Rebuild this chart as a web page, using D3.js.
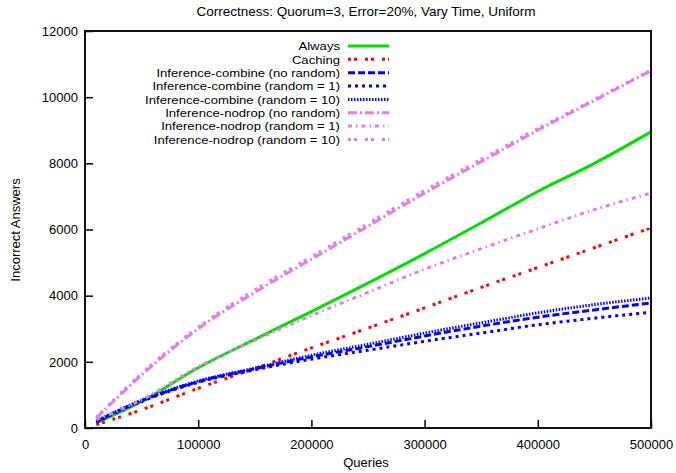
<!DOCTYPE html>
<html>
<head>
<meta charset="utf-8">
<script src="https://cdn.jsdelivr.net/npm/d3@7"></script>
<style>
  body { margin: 0; background: #fff; }
  text { font-family: "Liberation Sans", Arial, Helvetica, sans-serif; fill: #000; }
</style>
</head>
<body>
<svg id="chart" width="676" height="473"></svg>
<script>
const title = "Correctness: Quorum=3, Error=20%, Vary Time, Uniform";
const xLabel = "Queries";
const yLabel = "Incorrect Answers";
const xTicks = [0, 100000, 200000, 300000, 400000, 500000];
const yTicks = [0, 2000, 4000, 6000, 8000, 10000, 12000];

const queries = [10000, 50000, 100000, 150000, 200000, 250000, 300000, 350000, 400000, 450000, 500000];

const seriesNames = [
  "Always",
  "Caching",
  "Inference-combine (no random)",
  "Inference-combine (random = 1)",
  "Inference-combine (random = 10)",
  "Inference-nodrop (no random)",
  "Inference-nodrop (random = 1)",
  "Inference-nodrop (random = 10)"
];

const always          = [150, 800, 1820, 2680, 3520, 4380, 5270, 6200, 7150, 8000, 8950];
const caching         = [100, 550, 1200, 1800, 2420, 3020, 3630, 4250, 4850, 5450, 6050];
const combineNoRandom = [200, 820, 1400, 1790, 2150, 2460, 2780, 3080, 3350, 3570, 3780];
const combineRandom1  = [180, 800, 1380, 1760, 2080, 2350, 2620, 2870, 3120, 3320, 3500];
const combineRandom10 = [220, 840, 1420, 1810, 2200, 2530, 2870, 3180, 3480, 3730, 3930];
const nodropNoRandom  = [300, 1600, 3000, 4100, 5100, 6100, 7100, 8050, 9000, 9900, 10800];
const nodropRandom1   = [250, 850, 1850, 2650, 3400, 4100, 4800, 5420, 6020, 6600, 7100];
const nodropRandom10  = [320, 1650, 3050, 4180, 5180, 6180, 7180, 8120, 9050, 9930, 10820];

const seriesValues = [always, caching, combineNoRandom, combineRandom1, combineRandom10,
                      nodropNoRandom, nodropRandom1, nodropRandom10];

const styles = [
  { color: "#00e000", dash: null },
  { color: "#ff0000", dash: "3,3,3,8" },
  { color: "#0000ff", dash: "7,3" },
  { color: "#0000ff", dash: "3,4" },
  { color: "#0000ff", dash: "1.5,1.5" },
  { color: "#e47ee4", dash: "9,3,2,3" },
  { color: "#e47ee4", dash: "4,4,1.5,4" },
  { color: "#e47ee4", dash: "3,3,3,8" }
];

const FS = 13;
const svg = d3.select("#chart");
const L = 85, R = 651, T = 31, B = 428;
const x = d3.scaleLinear().domain([0, 500000]).range([L, R]);
const y = d3.scaleLinear().domain([0, 12000]).range([B, T]);

// title
svg.append("text").attr("x", 366).attr("y", 16).attr("text-anchor", "middle")
  .attr("font-size", 13.5).text(title);

// axes
const xAxis = d3.axisBottom(x).tickValues(xTicks).tickSizeInner(-8).tickSizeOuter(0)
  .tickPadding(12).tickFormat(d3.format("d"));
svg.append("g").attr("transform", `translate(0,${B})`).call(xAxis)
  .call(g => g.select(".domain").remove())
  .call(g => g.selectAll("text").attr("font-size", FS).attr("font-family", "Liberation Sans, Arial, sans-serif").attr("fill", "#000"))
  .call(g => g.selectAll("line").attr("stroke", "#000").attr("stroke-width", 1.5));

const yAxis = d3.axisLeft(y).tickValues(yTicks).tickSizeInner(-8).tickSizeOuter(0)
  .tickPadding(7).tickFormat(d3.format("d"));
svg.append("g").attr("transform", `translate(${L},0)`).call(yAxis)
  .call(g => g.select(".domain").remove())
  .call(g => g.selectAll("text").attr("font-size", FS).attr("font-family", "Liberation Sans, Arial, sans-serif").attr("fill", "#000"))
  .call(g => g.selectAll("line").attr("stroke", "#000").attr("stroke-width", 1.5));

// axis labels
svg.append("text").attr("x", 366).attr("y", 467).attr("text-anchor", "middle")
  .attr("font-size", FS).text(xLabel);
svg.append("text").attr("transform", "translate(20,230) rotate(-90)").attr("text-anchor", "middle")
  .attr("font-size", FS).text(yLabel);

// lines
svg.append("defs").append("clipPath").attr("id", "clip")
  .append("rect").attr("x", L).attr("y", T).attr("width", R - L).attr("height", B - T);
const line = d3.line().x((d, i) => x(queries[i])).y(d => y(d)).curve(d3.curveMonotoneX);
const plotG = svg.append("g").attr("clip-path", "url(#clip)");
seriesValues.forEach((vals, i) => {
  plotG.append("path").datum(vals)
    .attr("d", line)
    .attr("fill", "none")
    .attr("stroke", styles[i].color)
    .attr("stroke-width", 3)
    .attr("stroke-dasharray", styles[i].dash);
});

// frame
svg.append("rect").attr("x", L).attr("y", T).attr("width", R - L).attr("height", B - T)
  .attr("fill", "none").attr("stroke", "#111").attr("stroke-width", 2);

// legend
const lg = svg.append("g");
seriesNames.forEach((name, i) => {
  const yy = 46 + i * 13.35;
  lg.append("text")
    .attr("transform", `translate(340,${yy + 4.2}) scale(1.14,1)`)
    .attr("text-anchor", "end")
    .attr("font-size", 11.5).text(name);
  lg.append("line").attr("x1", 348).attr("x2", 389).attr("y1", yy).attr("y2", yy)
    .attr("stroke", styles[i].color).attr("stroke-width", 3)
    .attr("stroke-dasharray", styles[i].dash);
});
</script>
</body>
</html>
